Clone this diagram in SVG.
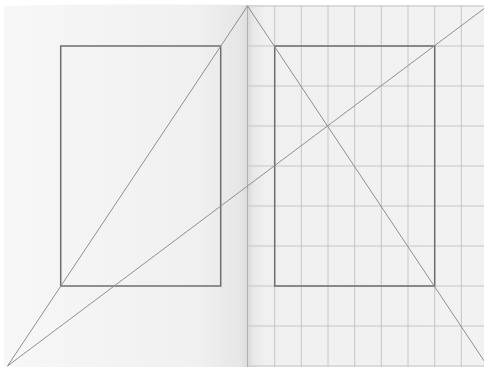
<svg xmlns="http://www.w3.org/2000/svg" width="484" height="367" viewBox="0 0 484 367">
  <defs>
    <linearGradient id="leftPage" x1="0" y1="0" x2="1" y2="0">
      <stop offset="0" stop-color="#f7f7f7"/>
      <stop offset="0.8" stop-color="#f0f0f0"/>
      <stop offset="0.97" stop-color="#e6e6e6"/>
      <stop offset="1" stop-color="#dcdcdc"/>
    </linearGradient>
    <linearGradient id="rightPage" x1="0" y1="0" x2="1" y2="0">
      <stop offset="0" stop-color="#d8d8d8"/>
      <stop offset="0.025" stop-color="#e8e8e8"/>
      <stop offset="0.08" stop-color="#f0f0f0"/>
      <stop offset="1" stop-color="#f2f2f2"/>
    </linearGradient>
    <style>
      .grid { stroke: #c6c6c6; stroke-width: 1; fill: none; }
      .block { stroke: #6e6e6e; stroke-width: 1.5; fill: none; }
      .diag { stroke: #8e8e8e; stroke-width: 1; fill: none; }
      .spine { stroke: #b0b0b0; stroke-width: 1; }
    </style>
  </defs>
  <rect x="0" y="0" width="484" height="367" fill="#ffffff"/>
  <g id="left-page">
    <path d="M4 6 Q120 3 247.5 5 L247.5 367 L4 367 Z" fill="url(#leftPage)"/>
  </g>
  <g id="right-page">
    <rect x="247.5" y="5" width="236.5" height="362" fill="url(#rightPage)"/>
    <g id="grid">
      <path class="grid" d="M274.7 5V367 M301.3 5V367 M328 5V367 M354.7 5V367 M381.3 5V367 M408 5V367 M434.7 5V367 M461.3 5V367"/>
      <path class="grid" d="M247.5 6H484 M247.5 46H484 M247.5 86H484 M247.5 126H484 M247.5 166H484 M247.5 206H484 M247.5 246H484 M247.5 286H484 M247.5 326H484 M247.5 366H484"/>
    </g>
  </g>
  <line class="spine" x1="247.5" y1="5" x2="247.5" y2="367"/>
  <g id="left-block">
    <rect class="block" x="60.7" y="46" width="160" height="240"/>
  </g>
  <g id="right-block">
    <rect class="block" x="274.7" y="46" width="160" height="240"/>
  </g>
  <g id="connectors">
    <line class="diag" x1="7.5" y1="366" x2="247.5" y2="6"/>
    <line class="diag" x1="7.5" y1="366" x2="487.5" y2="6"/>
    <line class="diag" x1="247.5" y1="6" x2="487.5" y2="366"/>
  </g>
</svg>
